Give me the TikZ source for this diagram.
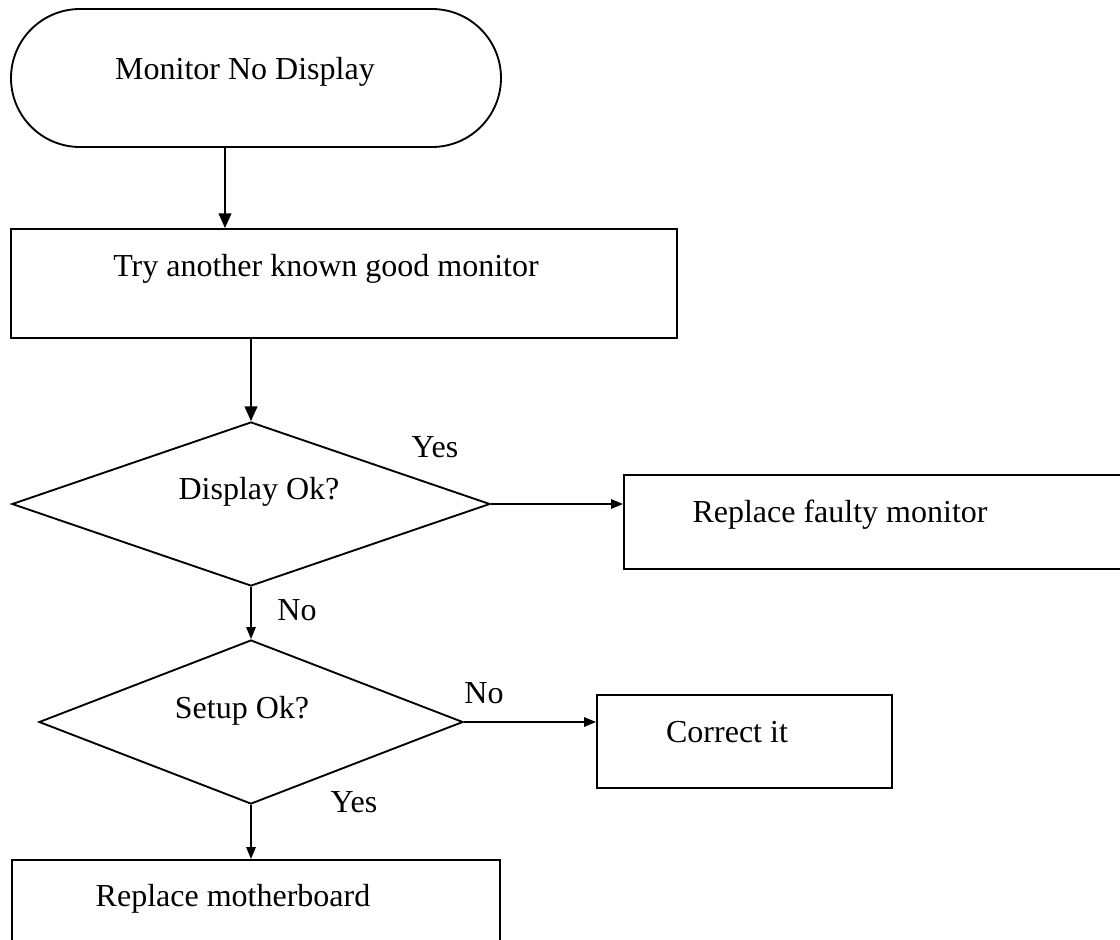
\documentclass[tikz,border=0pt]{standalone}
\usepackage{fontspec}
\setmainfont{Liberation Serif}
\usetikzlibrary{shapes.geometric,shapes.misc,arrows.meta}

\tikzset{
  term/.style={draw, rounded rectangle, inner sep=0pt},
  box/.style={draw, rectangle, inner sep=0pt},
  decide/.style={draw, diamond, inner sep=0pt},
  txt/.style={font=\fontsize{24}{28}\selectfont, inner sep=0pt, anchor=base},
  arr/.style={-{Triangle[length=9pt, width=7pt]}},
  bigarr/.style={-{Triangle[length=11pt, width=9.5pt]}}
}

\begin{document}
\begin{tikzpicture}[x=0.75pt, y=-0.75pt, line width=1.4pt]
\useasboundingbox (0,0) rectangle (1120,939);
\clip (0,0) rectangle (1120,939);
% shapes
\node[term, minimum width=367.5pt, minimum height=103.5pt] (start) at (256,78) {};
\node[box, minimum width=499.5pt, minimum height=81.75pt] (try) at (344,283.5) {};
\node[decide, minimum width=358.5pt, minimum height=123pt] (d1) at (251,504) {};
\node[box, minimum width=387pt, minimum height=70.5pt] (faulty) at (882,522) {};
\node[decide, minimum width=318pt, minimum height=123pt] (d2) at (251,722) {};
\node[box, minimum width=221.25pt, minimum height=69.75pt] (correct) at (744.5,741.5) {};
\node[box, minimum width=366pt, minimum height=75pt] (mother) at (256,910) {};
% texts
\node[txt] (tStart) at (245,79) {Monitor No Display};
\node[txt] (tTry) at (326,276) {Try another known good monitor};
\node[txt] (tD1) at (259,499) {Display Ok?};
\node[txt] (tFaulty) at (840,522) {Replace faulty monitor};
\node[txt] (tD2) at (242,718) {Setup Ok?};
\node[txt] (tCorrect) at (727,742) {Correct it};
\node[txt] (tMother) at (233,906) {Replace motherboard};
\node[txt] (yes1) at (435,457) {Yes};
\node[txt] (no1) at (297,620) {No};
\node[txt] (no2) at (484,703) {No};
\node[txt] (yes2) at (354,812) {Yes};
% connectors
\coordinate (a1) at ([xshift=-23.25pt]start.south);
\draw[bigarr] (a1) -- (a1 |- try.north);
\draw[bigarr] (try.south -| d1.north) -- (d1.north);
\draw[arr] (d1.east) -- (d1.east -| faulty.west);
\draw[arr] (d1.south) -- (d2.north);
\draw[arr] (d2.east) -- (d2.east -| correct.west);
\draw[arr] (d2.south) -- (d2.south |- mother.north);
\end{tikzpicture}
\end{document}
